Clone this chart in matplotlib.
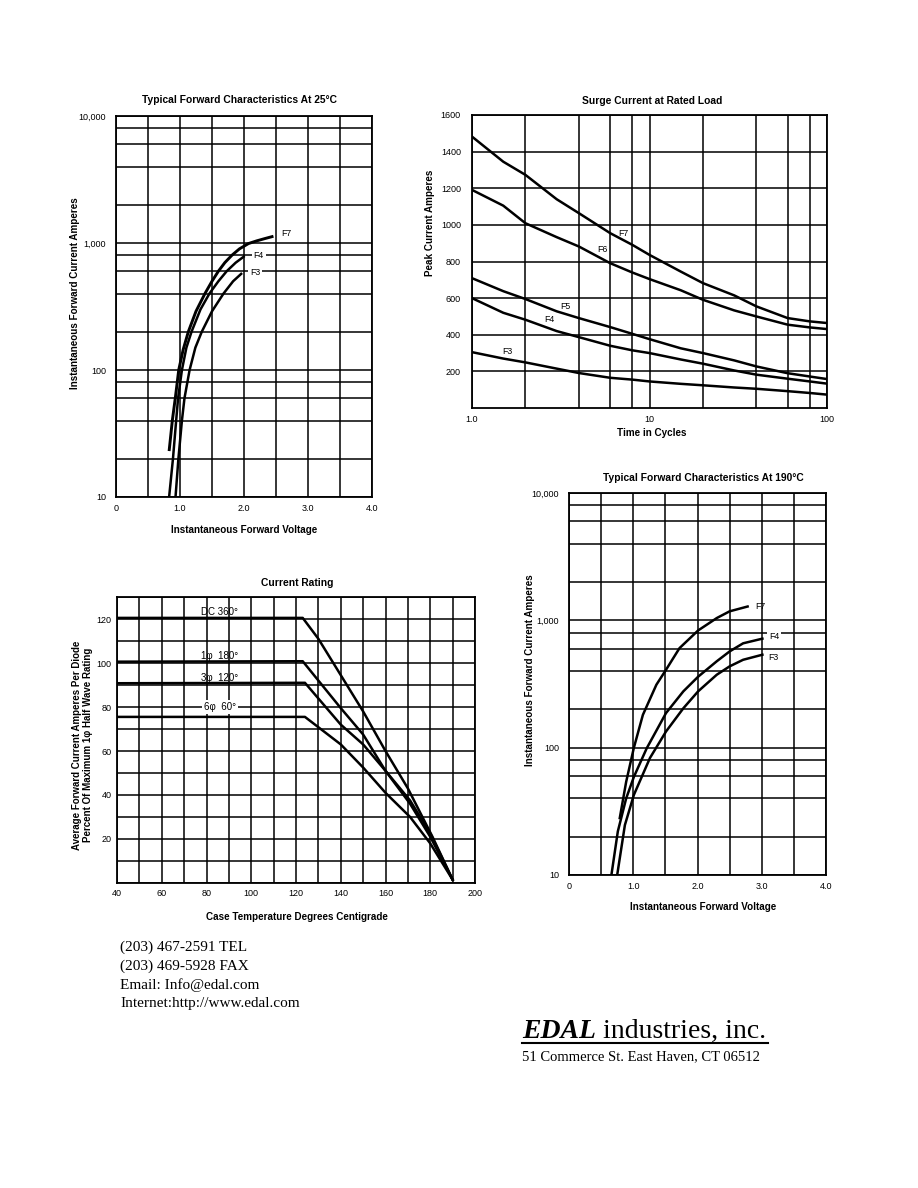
import matplotlib
matplotlib.use("Agg")
import matplotlib.pyplot as plt
from matplotlib.lines import Line2D
import numpy as np

plt.rcParams['font.family'] = ['Liberation Sans', 'DejaVu Sans']

W, H = 918, 1188

# ---------------- data ----------------
# Typical Forward Characteristics At 25°C
tl_f7_v = [0.83, 0.88, 0.93, 0.98, 1.05, 1.13, 1.25, 1.39, 1.50, 1.60, 1.70, 1.81, 1.93, 2.07, 2.20, 2.33, 2.46]
tl_f7_i = [23, 40, 62, 100, 145, 200, 290, 400, 500, 600, 700, 800, 900, 990, 1040, 1085, 1130]
tl_f4_v = [0.83, 0.89, 0.94, 0.97, 1.03, 1.10, 1.18, 1.32, 1.46, 1.60, 1.73, 1.87, 2.01]
tl_f4_i = [10, 20, 40, 60, 100, 150, 200, 300, 400, 500, 600, 700, 790]
tl_f3_v = [0.93, 0.975, 1.03, 1.07, 1.15, 1.24, 1.34, 1.50, 1.68, 1.83, 1.97]
tl_f3_i = [10, 20, 40, 60, 100, 150, 200, 290, 400, 500, 580]

# Surge Current at Rated Load
tr_cycles = [1, 1.5, 2, 3, 4, 6, 8, 10, 15, 20, 30, 40, 60, 80, 100]
tr_f7 = [1482, 1345, 1273, 1140, 1064, 955, 891, 836, 745, 682, 615, 555, 491, 473, 464]
tr_f6 = [1191, 1105, 1009, 933, 882, 791, 740, 704, 643, 591, 533, 500, 455, 440, 431]
tr_f5 = [709, 638, 595, 528, 491, 442, 405, 376, 326, 300, 260, 227, 190, 172, 158]
tr_f4 = [600, 520, 482, 420, 387, 340, 315, 300, 265, 242, 205, 182, 160, 145, 133]
tr_f3 = [305, 270, 249, 215, 191, 165, 155, 145, 132, 124, 112, 105, 92, 82, 73]

# Current Rating
bl_dc_t = [40, 123, 130, 140, 150, 160, 170, 181, 190]
bl_dc_p = [120.5, 120.5, 111, 94.5, 78, 60, 43, 21, 1.5]
bl_1p_t = [40, 123, 140, 150, 160, 171, 180, 190]
bl_1p_p = [100.6, 100.8, 79.5, 67.5, 51, 36, 21, 1.5]
bl_3p_t = [40, 124, 140, 150, 160, 171, 180, 190]
bl_3p_p = [90.8, 91, 72, 63, 51, 37.5, 22.5, 1.5]
bl_6p_t = [40, 124, 140, 150, 160, 171, 180, 190]
bl_6p_p = [75.5, 75.5, 63, 52.5, 41, 30, 18, 1.5]

# Typical Forward Characteristics At 190°C
br_f7_v = [0.79, 0.89, 1.01, 1.15, 1.36, 1.51, 1.72, 2.01, 2.30, 2.50, 2.78]
br_f7_i = [28, 54, 100, 181, 312, 409, 605, 833, 1042, 1177, 1284]
br_f4_v = [0.66, 0.76, 0.89, 1.01, 1.21, 1.51, 1.78, 2.01, 2.30, 2.50, 2.71, 3.01]
br_f4_i = [10, 22, 40, 59, 99, 187, 277, 361, 477, 570, 660, 718]
br_f3_v = [0.75, 0.87, 1.01, 1.26, 1.51, 1.78, 2.01, 2.30, 2.50, 2.71, 3.01]
br_f3_i = [10, 24.7, 42.6, 83, 134, 204, 277, 374, 435, 490, 537]

volt_ticks = [0, 1, 2, 3, 4]
volt_labels = ['0', '1.0', '2.0', '3.0', '4.0']
amp_ticks = [10, 100, 1000, 10000]
amp_labels = ['10', '100', '1,000', '10,000']
amp_minor = [20, 40, 60, 80, 200, 400, 600, 800, 2000, 4000, 6000, 8000]

# ---------------- figure ----------------
fig = plt.figure(figsize=(W / 100, H / 100), dpi=100)
fig.patch.set_facecolor('white')

def ax_px(l, t, r, b):
    return fig.add_axes([l / W, 1 - b / H, (r - l) / W, (b - t) / H])

def ftext(x, y, s, **kw):
    return fig.text(x / W, 1 - y / H, s, **kw)

GLW = 1.1
CLW = 1.8
TFS = 6.5
HFS = 7.4   # titles
AFS = 7.1   # axis labels

def style(ax):
    for sp in ax.spines.values():
        sp.set_linewidth(1.3)
        sp.set_color('black')
    ax.tick_params(which='both', length=0, labelsize=TFS, colors='black')
    ax.grid(which='both', color='black', linewidth=GLW)
    ax.set_axisbelow(True)

def fwd_axes(ax):
    ax.set_yscale('log')
    ax.set_xlim(0, 4)
    ax.set_ylim(10, 10000)
    ax.set_xticks(volt_ticks)
    ax.set_xticklabels(volt_labels)
    ax.set_xticks(np.arange(0, 4.01, 0.5), minor=True)
    ax.set_yticks(amp_ticks)
    ax.set_yticklabels(amp_labels)
    ax.set_yticks(amp_minor, minor=True)
    ax.yaxis.set_minor_formatter(matplotlib.ticker.NullFormatter())
    style(ax)
    ax.tick_params(axis='x', pad=5)
    ax.tick_params(axis='y', pad=7)

lbl = dict(fontsize=6.3, color='black', va='center', ha='center')
wbox = dict(facecolor='white', edgecolor='none', pad=1.2)

# ---- top-left ----
ax1 = ax_px(116, 116, 372, 497)
fwd_axes(ax1)
ax1.plot(tl_f7_v, tl_f7_i, color='black', lw=CLW + 0.3, solid_capstyle='butt')
ax1.plot(tl_f4_v, tl_f4_i, color='black', lw=CLW, solid_capstyle='butt')
ax1.plot(tl_f3_v, tl_f3_i, color='black', lw=CLW, solid_capstyle='butt')
ax1.text(2.66, 1180, 'F7', bbox=wbox, **lbl)
ax1.text(2.23, 800, 'F4', bbox=wbox, **lbl)
ax1.text(2.17, 590, 'F3', bbox=wbox, **lbl)
ftext(240, 100, 'Typical Forward Characteristics At 25\u00b0C', fontsize=HFS,
      fontweight='bold', ha='center', va='center')
ftext(244, 530, 'Instantaneous Forward Voltage', fontsize=AFS,
      fontweight='bold', ha='center', va='center')
ftext(75, 293, 'Instantaneous Forward Current Amperes', fontsize=AFS,
      fontweight='bold', ha='center', va='center', rotation=90)

# ---- top-right ----
ax2 = ax_px(472, 115, 827, 408)
ax2.set_xscale('log')
ax2.set_xlim(1, 100)
ax2.set_ylim(0, 1600)
ax2.set_xticks([1, 10, 100])
ax2.set_xticklabels(['1.0', '10', '100'])
ax2.set_xticks([2, 4, 6, 8, 20, 40, 60, 80], minor=True)
ax2.xaxis.set_minor_formatter(matplotlib.ticker.NullFormatter())
ax2.set_yticks(range(200, 1601, 200))
style(ax2)
ax2.tick_params(axis='x', pad=5)
ax2.tick_params(axis='y', pad=8)
for s in (tr_f7, tr_f6, tr_f5, tr_f4, tr_f3):
    ax2.plot(tr_cycles, s, color='black', lw=CLW)
ax2.text(7.1, 955, 'F7', **lbl)
ax2.text(5.4, 866, 'F6', **lbl)
ax2.text(3.37, 553, 'F5', **lbl)
ax2.text(2.73, 484, 'F4', **lbl)
ax2.text(1.59, 311, 'F3', **lbl)
ftext(652, 101, 'Surge Current at Rated Load', fontsize=HFS,
      fontweight='bold', ha='center', va='center')
ftext(652, 433, 'Time in Cycles', fontsize=AFS,
      fontweight='bold', ha='center', va='center')
ftext(430, 223, 'Peak Current Amperes', fontsize=AFS,
      fontweight='bold', ha='center', va='center', rotation=90)

# ---- bottom-left ----
ax3 = ax_px(117, 597, 475, 883)
ax3.set_xlim(40, 200)
ax3.set_ylim(0, 130)
ax3.set_xticks(range(40, 201, 20))
ax3.set_xticks(range(40, 201, 10), minor=True)
ax3.set_yticks(range(20, 121, 20))
ax3.set_yticks(range(0, 131, 10), minor=True)
style(ax3)
ax3.tick_params(axis='x', pad=4)
ax3.tick_params(axis='y', pad=4)
ax3.plot(bl_dc_t, bl_dc_p, color='black', lw=CLW)
ax3.plot(bl_1p_t, bl_1p_p, color='black', lw=CLW)
ax3.plot(bl_3p_t, bl_3p_p, color='black', lw=CLW)
ax3.plot(bl_6p_t, bl_6p_p, color='black', lw=CLW)
lb3 = dict(fontsize=7, color='black', va='center', ha='center')
ax3.text(86, 123, 'DC 360\u00b0', **lb3)
ax3.text(86, 103, '1\u03c6  180\u00b0', **lb3)
ax3.text(86, 93, '3\u03c6  120\u00b0', **lb3)
ax3.text(86, 80, '6\u03c6  60\u00b0', bbox=wbox, **lb3)
ftext(297, 583, 'Current Rating', fontsize=HFS,
      fontweight='bold', ha='center', va='center')
ftext(297, 917, 'Case Temperature Degrees Centigrade', fontsize=AFS,
      fontweight='bold', ha='center', va='center')
ftext(77, 745, 'Average Forward Current Amperes Per Diode', fontsize=7,
      fontweight='bold', ha='center', va='center', rotation=90)
ftext(88, 745, 'Percent Of Maximum 1\u03c6 Half Wave Rating', fontsize=7,
      fontweight='bold', ha='center', va='center', rotation=90)

# ---- bottom-right ----
ax4 = ax_px(569, 493, 826, 875)
fwd_axes(ax4)
ax4.plot(br_f7_v, br_f7_i, color='black', lw=CLW)
ax4.plot(br_f4_v, br_f4_i, color='black', lw=CLW)
ax4.plot(br_f3_v, br_f3_i, color='black', lw=CLW)
ax4.text(2.98, 1290, 'F7', **lbl)
ax4.text(3.19, 740, 'F4', bbox=wbox, **lbl)
ax4.text(3.18, 512, 'F3', bbox=wbox, **lbl)
ftext(703, 478, 'Typical Forward Characteristics At 190\u00b0C', fontsize=HFS,
      fontweight='bold', ha='center', va='center')
ftext(703, 907, 'Instantaneous Forward Voltage', fontsize=AFS,
      fontweight='bold', ha='center', va='center')
ftext(530, 670, 'Instantaneous Forward Current Amperes', fontsize=AFS,
      fontweight='bold', ha='center', va='center', rotation=90)

# ---- footer ----
serif = ['Liberation Serif', 'DejaVu Serif']
contact = ['(203) 467-2591 TEL', '(203) 469-5928 FAX',
           'Email: Info@edal.com', 'Internet:http://www.edal.com']
for i, line in enumerate(contact):
    ftext(120, 947 + i * 19, line, fontsize=11, family=serif, ha='left', va='center')

t1 = ftext(522, 1038, 'EDAL', fontsize=20, family=serif, fontweight='bold',
           style='italic', ha='left', va='baseline')
fig.canvas.draw()
r = fig.canvas.get_renderer()
bb = t1.get_window_extent(renderer=r)
x2 = bb.x1 / W
fig.text(x2, 1 - 1038 / H, ' industries, inc.', fontsize=20, family=serif,
         ha='left', va='baseline')
fig.add_artist(Line2D([522 / W, 768 / W], [1 - 1043 / H, 1 - 1043 / H],
                      color='black', lw=1.5, transform=fig.transFigure))
ftext(522, 1057, '51 Commerce St. East Haven, CT 06512', fontsize=10.5,
      family=serif, ha='left', va='center')

fig.savefig('out.png', dpi=100, facecolor='white')
